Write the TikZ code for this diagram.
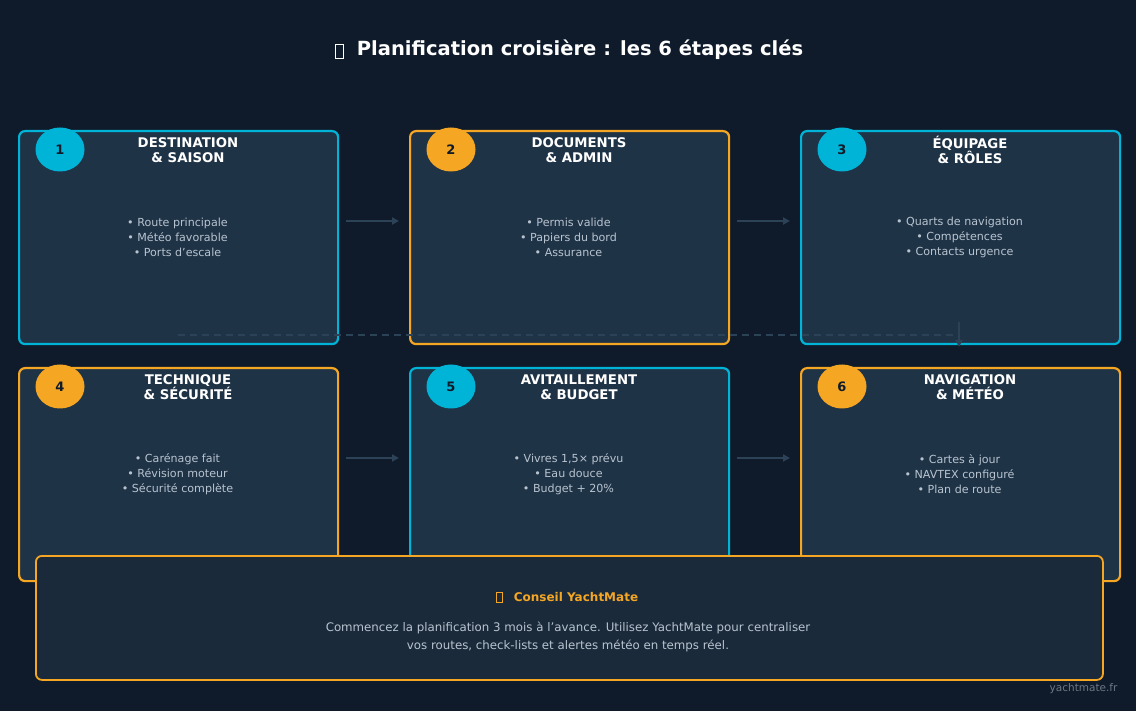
\documentclass[tikz,border=0pt]{standalone}
\usepackage{fontspec}
\setmainfont{DejaVu Sans}
\usetikzlibrary{arrows.meta,shapes.geometric}
\definecolor{bg}{HTML}{0F1B2A}
\definecolor{boxf}{HTML}{1F3347}
\definecolor{tipf}{HTML}{1B2A3A}
\definecolor{cy}{HTML}{00B4D8}
\definecolor{orr}{HTML}{F5A623}
\definecolor{txt}{HTML}{B8C4D0}
\definecolor{conn}{HTML}{2C4257}
\begin{document}
\begin{tikzpicture}[x=1pt,y=-1pt,
 card/.style={draw=#1,line width=2.2pt,fill=boxf,rounded corners=6pt,minimum width=319pt,minimum height=213pt,anchor=north west,inner sep=0pt},
 num/.style={ellipse,fill=#1,minimum width=49pt,minimum height=44pt,inner sep=0pt,font=\bfseries\fontsize{13}{13}\selectfont,text=bg},
 ttl/.style={font=\bfseries\fontsize{13.3}{14.5}\selectfont,text=white,align=center},
 bul/.style={font=\fontsize{11.1}{15}\selectfont,text=txt,align=center},
 arr/.style={draw=conn,line width=2pt,-{Triangle[length=7pt,width=7pt]}}]
\fill[bg] (0,0) rectangle (1136,711);
\useasboundingbox (0,0) rectangle (1136,711);
\node[font=\bfseries\fontsize{19.5}{21}\selectfont,text=white] (title) at (580,50) {Planification croisière : les 6 étapes clés};
\node[draw=white,line width=0.8pt,minimum width=8pt,minimum height=14pt,inner sep=0pt] (ticon) at (339,51) {};
% cards
\node[card=cy] (c1) at (18,130) {};
\node[card=orr] (c2) at (409,130) {};
\node[card=cy] (c3) at (800,130) {};
\node[card=orr] (c4) at (18,367) {};
\node[card=cy] (c5) at (409,367) {};
\node[card=orr] (c6) at (800,367) {};
\foreach \i/\x/\y/\c/\t/\b in {
 1/18/130/cy/{DESTINATION\\\& SAISON}/{• Route principale\\• Météo favorable\\• Ports d'escale},
 2/409/130/orr/{DOCUMENTS\\\& ADMIN}/{• Permis valide\\• Papiers du bord\\• Assurance},
 3/800/130/cy/{ÉQUIPAGE\\\& RÔLES}/{• Quarts de navigation\\• Compétences\\• Contacts urgence},
 4/18/367/orr/{TECHNIQUE\\\& SÉCURITÉ}/{• Carénage fait\\• Révision moteur\\• Sécurité complète},
 5/409/367/cy/{AVITAILLEMENT\\\& BUDGET}/{• Vivres 1,5× prévu\\• Eau douce\\• Budget + 20\%},
 6/800/367/orr/{NAVIGATION\\\& MÉTÉO}/{• Cartes à jour\\• NAVTEX configuré\\• Plan de route}}{
 \node[num=\c] (n\i) at (\x+42,\y+19.5) {\i};
 \node[ttl] (t\i) at (\x+170,\y+20) {\t};
 \node[bul] (b\i) at (\x+159.5,\y+107) {\b};
}
\draw[arr] (346,221) -- (399,221);
\draw[arr] (737,221) -- (790,221);
\draw[arr] (346,458) -- (399,458);
\draw[arr] (737,458) -- (790,458);
\draw[conn,line width=1.5pt,dash pattern=on 7pt off 5pt] (178,335) -- (959,335);
\draw[arr] (959,322) -- (959,347);
% tip
\node[draw=orr,line width=1.8pt,fill=tipf,rounded corners=6pt,minimum width=1067pt,minimum height=124pt,anchor=north west] (tip) at (35,555) {};
\node[font=\bfseries\fontsize{12}{12}\selectfont,text=orr] (tipt) at (576,597) {Conseil YachtMate};
\node[draw=orr,line width=0.7pt,minimum width=6pt,minimum height=10pt,inner sep=0pt] (tipi) at (499,597) {};
\node[font=\fontsize{11.8}{18}\selectfont,text=txt,align=center] (tipb) at (568,637) {Commencez la planification 3 mois à l'avance. Utilisez YachtMate pour centraliser\\vos routes, check-lists et alertes météo en temps réel.};
\node[font=\fontsize{10.5}{10}\selectfont,text=txt!55!bg,anchor=east] (foot) at (1121,689) {yachtmate.fr};
\end{tikzpicture}
\end{document}
